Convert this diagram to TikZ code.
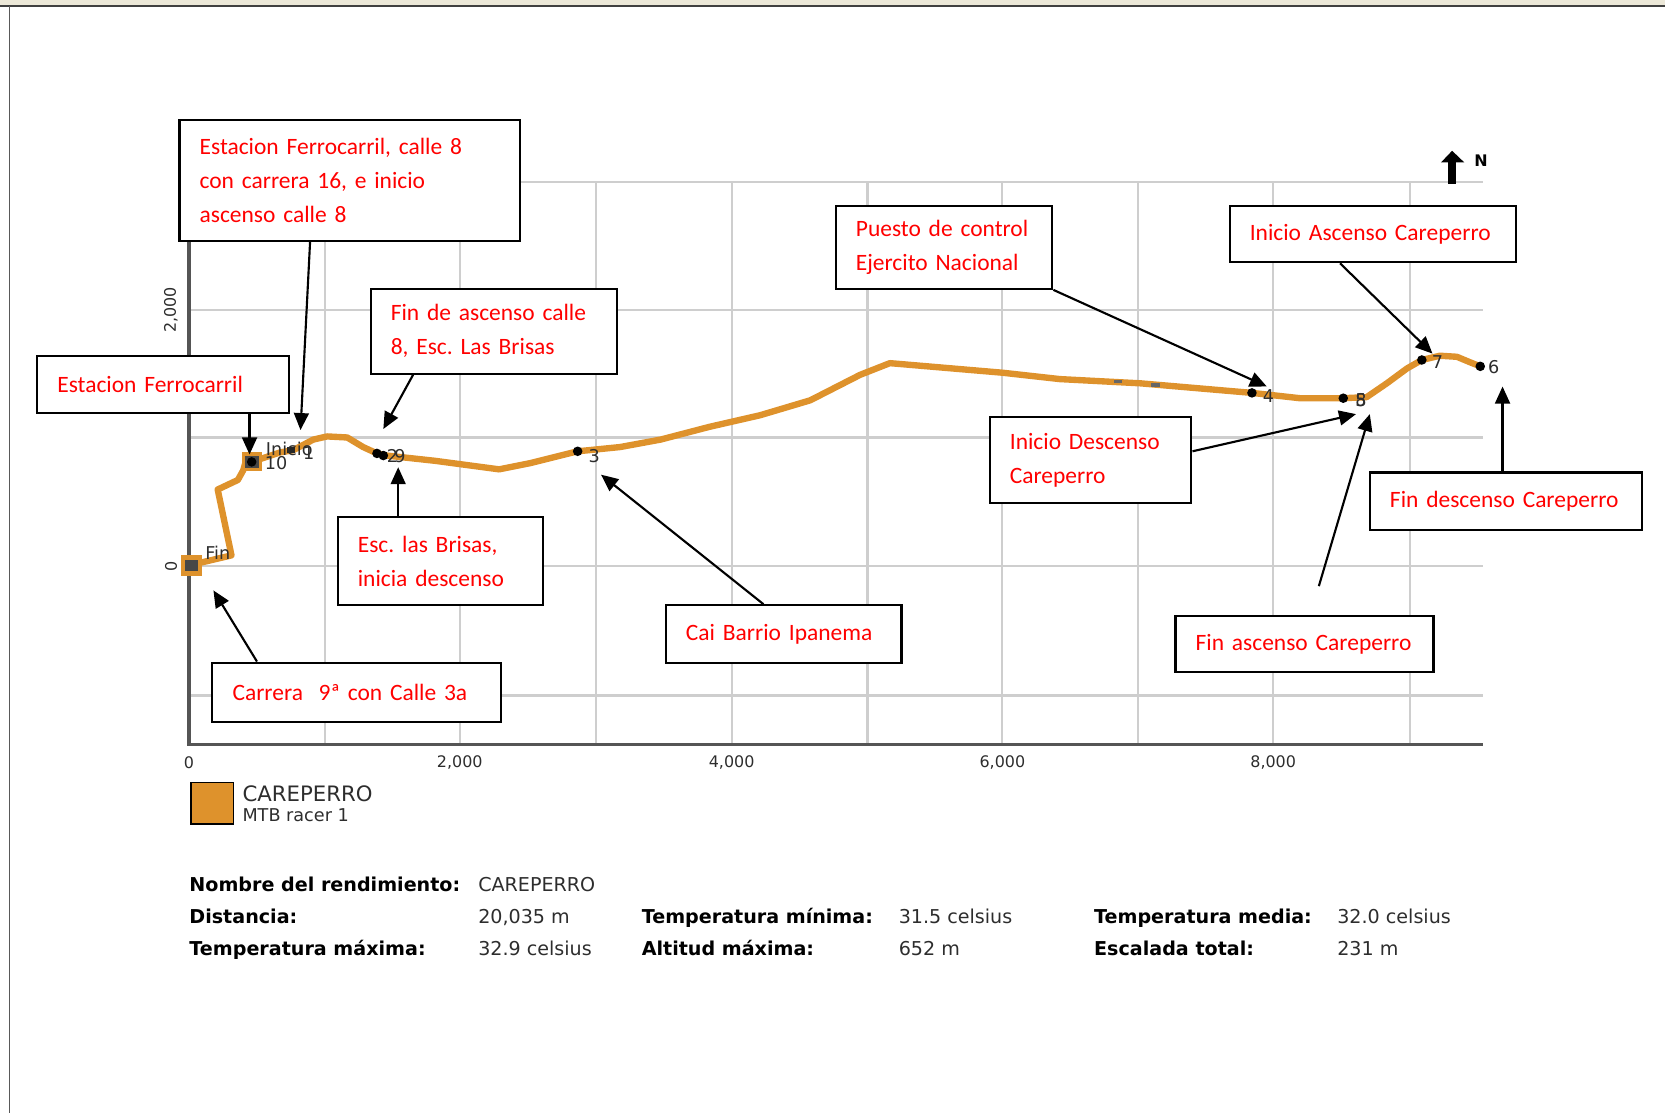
\documentclass[tikz,border=0pt]{standalone}
\usepackage{fontspec}
\usetikzlibrary{arrows.meta,calc}
\newfontfamily\calfont{Carlito}
\newfontfamily\chartfont{DejaVu Sans}
\definecolor{route}{RGB}{222,146,44}
\definecolor{gridgray}{RGB}{206,206,206}
\definecolor{axisgray}{RGB}{85,85,85}
\definecolor{labelgray}{RGB}{45,45,45}
\definecolor{framebeige}{RGB}{236,232,216}
\frenchspacing

\begin{document}
\begin{tikzpicture}[x=0.5pt,y=-0.5pt,
  callout/.style={draw=black, line width=1pt, fill=white, text=red,
    font=\calfont\fontsize{11.05}{16}\selectfont, align=left,
    inner xsep=9.5pt, inner ysep=0pt, anchor=north west},
  pointer/.style={line width=1pt, -{Triangle[length=8pt,width=7pt]}},
  ptlabel/.style={font=\chartfont\fontsize{8.3}{10}\selectfont, text=labelgray, inner sep=0pt, anchor=base west},
  ticklabel/.style={font=\chartfont\fontsize{7.5}{9}\selectfont, text=labelgray, inner sep=0pt},
  statkey/.style={font=\chartfont\bfseries\fontsize{9}{11}\selectfont, inner sep=0pt, anchor=base west},
  statval/.style={font=\chartfont\fontsize{9}{11}\selectfont, text=labelgray, inner sep=0pt, anchor=base west},
  dot/.style={circle, fill=black, inner sep=0pt, minimum size=4.5pt},
]
\useasboundingbox (0,0) rectangle (1568,1048);

% window frame
\fill[framebeige] (0,0) rectangle (1568,5);
\draw[line width=1pt, black!75] (0,6) -- (1568,6);
\draw[line width=0.8pt, black!65] (9,6) -- (9,1048);

% grid
\foreach \y in {171,292,412,533,655}
  \draw[gridgray, line width=1pt] (178,\y) -- (1397,\y);
\foreach \x in {306,433,561,689,817,944,1072,1199,1328}
  \draw[gridgray, line width=1pt] (\x,171) -- (\x,701);

% axes
\draw[axisgray, line width=1.6pt] (178,171) -- (178,701) -- (1397,701);

% tick labels
\node[ticklabel] (x0) at (178,718) {0};
\node[ticklabel] (x2) at (433,718) {2,000};
\node[ticklabel] (x4) at (689,718) {4,000};
\node[ticklabel] (x6) at (944,718) {6,000};
\node[ticklabel] (x8) at (1199,718) {8,000};
\node[ticklabel, rotate=90] (y2) at (161,292) {2,000};
\node[ticklabel, rotate=90] (y0) at (161,533) {0};

% route
\draw[route, line width=3pt, line join=round, line cap=round] plot coordinates {
  (180,532) (218,523) (205,461) (224,452) (229,443) (231,436) (237,435)
  (264,426) (276,424) (295,414) (308,411) (327,412) (342,421) (355,427)
  (364,429) (410,434) (440,438) (470,442) (500,436) (544,425) (584,421)
  (622,414) (668,402) (716,391) (763,377) (810,353) (838,342) (850,343)
  (944,351) (998,357) (1074,361) (1179,370) (1224,375) (1265,375)
  (1287,374) (1306,361) (1325,347) (1339,339) (1356,335) (1372,336)
  (1384,341) (1394,345)};
\fill[black!60] (1049,358) rectangle (1057,361);
\fill[black!60] (1084,361) rectangle (1092,364);

% route markers
\fill[route] (170,523) rectangle (190,542);
\fill[black!72] (174,527) rectangle (186,538);
\fill[route] (228,426) rectangle (247,444);
\fill[black!72] (231,429) rectangle (244,441);
\node[dot] (p10) at (237,435) {};
\fill[black!85] (270,421) rectangle (278,427);
\node[dot] (p2) at (355,427) {};
\node[dot] (p9) at (361,429) {};
\node[dot] (p3) at (544,425) {};
\node[dot] (p4) at (1179,370) {};
\node[dot] (p5) at (1265,375) {};
\node[dot] (p7) at (1339,339) {};
\node[dot] (p6) at (1394,345) {};

% point labels
\node[ptlabel] (lfin) at (193,527) {Fin};
\node[ptlabel] (linicio) at (250,429) {Inicio};
\node[ptlabel] (l1) at (285,433) {1};
\node[ptlabel] (l10) at (249,442) {10};
\node[ptlabel] (l2) at (364,436) {2};
\node[ptlabel] (l9) at (371,436) {9};
\node[ptlabel] (l3) at (554,436) {3};
\node[ptlabel] (l4) at (1189,379) {4};
\node[ptlabel] (l5) at (1276,383) {5};
\node[ptlabel] (l8) at (1276,383) {8};
\node[ptlabel] (l7) at (1348,347) {7};
\node[ptlabel] (l6) at (1401,352) {6};

% north arrow
\fill[black] (1364,173) rectangle (1371,152);
\fill[black] (1357,153) -- (1367.5,142) -- (1379,153) -- cycle;
\node[font=\chartfont\bfseries\fontsize{7.5}{9}\selectfont, inner sep=0pt, anchor=base west] (north) at (1388,157) {N};

% callouts
\node[callout, text width=141.5pt, minimum height=57pt] (ferro8) at (168,112)
  {\mbox{Estacion Ferrocarril, calle 8}\\\mbox{con carrera 16, e inicio}\\\mbox{ascenso calle 8}};
\node[callout, text width=99.5pt, minimum height=27pt] (ferro) at (34,334)
  {\mbox{Estacion Ferrocarril}};
\node[callout, text width=97pt, minimum height=40pt] (brisasup) at (348,271)
  {\mbox{Fin de ascenso calle}\\\mbox{8, Esc. Las Brisas}};
\node[callout, text width=77.5pt, minimum height=41.5pt] (brisasdown) at (317,486)
  {\mbox{Esc. las Brisas,}\\\mbox{inicia descenso}};
\node[callout, text width=117pt, minimum height=28pt] (carrera) at (199,623)
  {\mbox{Carrera\ \ 9ª con Calle 3a}};
\node[callout, text width=92pt, minimum height=27pt] (cai) at (626,569)
  {\mbox{Cai Barrio Ipanema}};
\node[callout, text width=83pt, minimum height=39pt] (puesto) at (786,193)
  {\mbox{Puesto de control}\\\mbox{Ejercito Nacional}};
\node[callout, text width=116pt, minimum height=26.5pt] (inicioasc) at (1157,193)
  {\mbox{Inicio Ascenso Careperro}};
\node[callout, text width=76pt, minimum height=40.5pt] (iniciodesc) at (931,392)
  {\mbox{Inicio Descenso}\\\mbox{Careperro}};
\node[callout, text width=109pt, minimum height=27pt] (findesc) at (1289,444)
  {\mbox{Fin descenso Careperro}};
\node[callout, text width=102.5pt, minimum height=26.5pt] (finasc) at (1106,579)
  {\mbox{Fin ascenso Careperro}};

% pointers
\coordinate (tipferro8) at (283,405);
\coordinate (tipferro) at (235,428);
\coordinate (tipbrisasup) at (361,404);
\coordinate (tipbrisasdown) at (375,440);
\coordinate (tipcarrera) at (201,556);
\coordinate (tipcai) at (566,447);
\coordinate (tippuesto) at (1193,364);
\coordinate (tipinicioasc) at (1349,333);
\coordinate (tipiniciodesc) at (1277,390);
\coordinate (tipfindesc) at (1415,364);
\coordinate (tipfinasc) at (1290,390);
\coordinate (tailfinasc) at (1242,552);

\draw[pointer] ($(ferro8.south west)+(124,0)$) -- (tipferro8);
\draw[pointer] ($(ferro.south west)+(201,0)$) -- (tipferro);
\draw[pointer] ($(brisasup.south west)+(41,0)$) -- (tipbrisasup);
\draw[pointer] ($(brisasdown.north west)+(58,0)$) -- (tipbrisasdown);
\draw[pointer] ($(carrera.north west)+(43,0)$) -- (tipcarrera);
\draw[pointer] ($(cai.north west)+(93,0)$) -- (tipcai);
\draw[pointer] (puesto.south east) -- (tippuesto);
\draw[pointer] ($(inicioasc.south west)+(105,0)$) -- (tipinicioasc);
\draw[pointer] ($(iniciodesc.north east)+(0,33)$) -- (tipiniciodesc);
\draw[pointer] ($(findesc.north west)+(126,0)$) -- (tipfindesc);
\draw[pointer] (tailfinasc) -- (tipfinasc);

% legend
\node[draw=black, line width=0.8pt, fill=route, minimum width=20pt, minimum height=19.5pt,
  inner sep=0pt, anchor=north west] (legendbox) at (179,736) {};
\node[font=\chartfont\fontsize{10}{12}\selectfont, text=labelgray, anchor=base west, inner sep=0pt]
  (legname) at (228,755) {CAREPERRO};
\node[font=\chartfont\fontsize{8.3}{10}\selectfont, text=labelgray, anchor=base west, inner sep=0pt]
  (legsub) at (228,774) {MTB racer 1};

% summary table
\node[statkey] (k1) at (178,839.5) {Nombre del rendimiento:};
\node[statval] (v1) at (450,839.5) {CAREPERRO};
\node[statkey] (k2) at (178,869.5) {Distancia:};
\node[statval] (v2) at (450,869.5) {20,035 m};
\node[statkey] (k3) at (604,869.5) {Temperatura mínima:};
\node[statval] (v3) at (846,869.5) {31.5 celsius};
\node[statkey] (k4) at (1030,869.5) {Temperatura media:};
\node[statval] (v4) at (1259,869.5) {32.0 celsius};
\node[statkey] (k5) at (178,899.5) {Temperatura máxima:};
\node[statval] (v5) at (450,899.5) {32.9 celsius};
\node[statkey] (k6) at (604,899.5) {Altitud máxima:};
\node[statval] (v6) at (846,899.5) {652 m};
\node[statkey] (k7) at (1030,899.5) {Escalada total:};
\node[statval] (v7) at (1259,899.5) {231 m};
\end{tikzpicture}
\end{document}
